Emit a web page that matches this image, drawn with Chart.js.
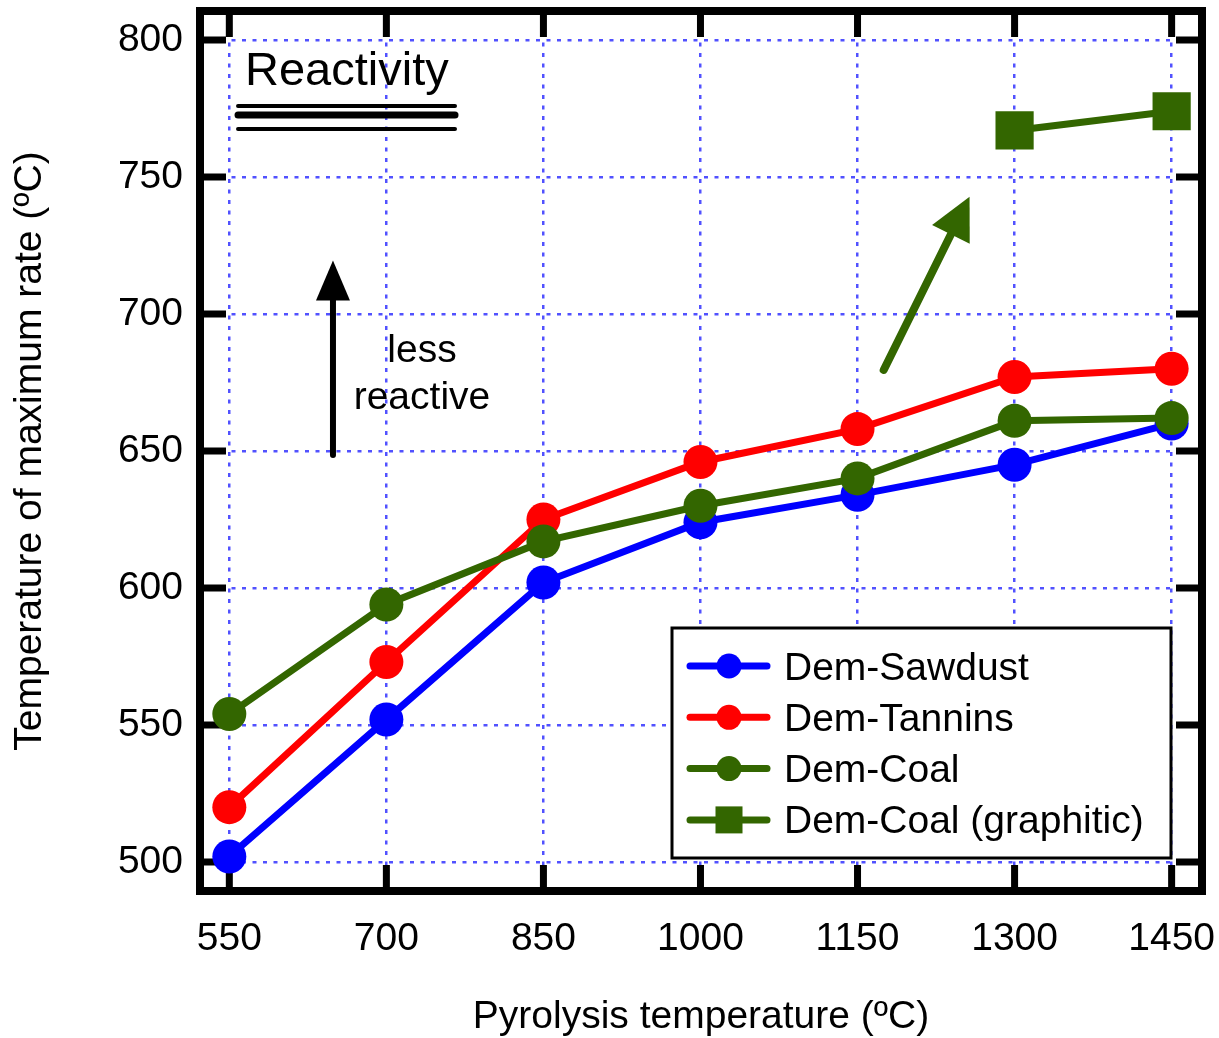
<!DOCTYPE html>
<html>
<head>
<meta charset="utf-8">
<script src="https://cdn.jsdelivr.net/npm/chart.js@4"></script>
<style>
  html, body { margin: 0; padding: 0; background: #fff; }
  #wrap { width: 1219px; height: 1038px; }
</style>
</head>
<body>
<div id="wrap"><canvas id="myChart"></canvas></div>
<script>
// pyrolysis temperatures (x) and y ticks
let pyroTemps = [550, 700, 850, 1000, 1150, 1300, 1450];
let yTicks = [500, 550, 600, 650, 700, 750, 800];

// temperature of maximum rate
let sawdust = [502, 552, 602, 624, 634, 645, 660];
let tannins = [520, 573, 625, 646, 658, 677, 680];
let coal = [554, 594, 617, 630, 640, 661, 662];
let graphTemps = [1300, 1450];
let coalGraphitic = [767, 774];

let seriesNames = ['Dem-Sawdust', 'Dem-Tannins', 'Dem-Coal', 'Dem-Coal (graphitic)'];
let seriesColors = ['#0000ff', '#ff0000', '#336600', '#336600'];

const FONT = 'Liberation Sans, Arial, sans-serif';

function pts(xs, ys) {
    return xs.map((x, i) => ({x: x, y: ys[i]}));
}

function makeSet(i, xs, ys, style, radius, order) {
    return {
        label: seriesNames[i],
        data: pts(xs, ys),
        borderColor: seriesColors[i],
        backgroundColor: seriesColors[i],
        pointBackgroundColor: seriesColors[i],
        pointBorderColor: seriesColors[i],
        pointBorderWidth: 0,
        pointStyle: style,
        pointRadius: radius,
        pointHoverRadius: radius,
        borderWidth: 7,
        fill: false,
        tension: 0,
        clip: false,
        order: order
    };
}

function arrow(ctx, x1, y1, x2, y2, color, lw, headLen, headHalf) {
    let ang = Math.atan2(y2 - y1, x2 - x1);
    let bx = x2 - headLen * Math.cos(ang);
    let by = y2 - headLen * Math.sin(ang);
    ctx.save();
    ctx.strokeStyle = color;
    ctx.fillStyle = color;
    ctx.lineWidth = lw;
    ctx.lineCap = 'round';
    ctx.beginPath();
    ctx.moveTo(x1, y1);
    ctx.lineTo(bx + 4 * Math.cos(ang), by + 4 * Math.sin(ang));
    ctx.stroke();
    ctx.beginPath();
    ctx.moveTo(x2, y2);
    ctx.lineTo(bx + headHalf * Math.sin(ang), by - headHalf * Math.cos(ang));
    ctx.lineTo(bx - headHalf * Math.sin(ang), by + headHalf * Math.cos(ang));
    ctx.closePath();
    ctx.fill();
    ctx.restore();
}

// frame + inward ticks on all four sides
const framePlugin = {
    id: 'frame',
    beforeDatasetsDraw(chart) {
        const ctx = chart.ctx;
        const a = chart.chartArea;
        const xs = chart.scales.x, ys = chart.scales.y;
        const len = 26;
        ctx.save();
        ctx.strokeStyle = '#000';
        ctx.lineWidth = 7;
        ctx.lineCap = 'butt';
        ctx.beginPath();
        pyroTemps.forEach(v => {
            let px = xs.getPixelForValue(v);
            ctx.moveTo(px, a.top); ctx.lineTo(px, a.top + len);
            ctx.moveTo(px, a.bottom); ctx.lineTo(px, a.bottom - len);
        });
        yTicks.forEach(v => {
            let py = ys.getPixelForValue(v);
            ctx.moveTo(a.left, py); ctx.lineTo(a.left + len, py);
            ctx.moveTo(a.right, py); ctx.lineTo(a.right - len, py);
        });
        ctx.stroke();
        ctx.lineWidth = 8;
        ctx.strokeRect(a.left, a.top, a.right - a.left, a.bottom - a.top);
        ctx.restore();
    }
};

// text, arrows and legend box
const notesPlugin = {
    id: 'notes',
    afterDatasetsDraw(chart) {
        const ctx = chart.ctx;
        const xs = chart.scales.x, ys = chart.scales.y;
        ctx.save();
        ctx.fillStyle = '#000';
        ctx.textBaseline = 'alphabetic';

        // Reactivity + triple underline
        let rx = xs.getPixelForValue(565), ry = ys.getPixelForValue(783.6);
        ctx.font = '47px ' + FONT;
        ctx.textAlign = 'left';
        ctx.fillText('Reactivity', rx, ry);
        ctx.strokeStyle = '#000';
        ctx.lineCap = 'round';
        [[21, 4], [30, 7], [44, 4]].forEach(l => {
            ctx.lineWidth = l[1];
            ctx.beginPath();
            ctx.moveTo(rx - 7, ry + l[0]);
            ctx.lineTo(rx + 210, ry + l[0]);
            ctx.stroke();
        });

        // less reactive
        let lx = xs.getPixelForValue(734), ly = ys.getPixelForValue(682.5);
        ctx.font = '39px ' + FONT;
        ctx.textAlign = 'center';
        ctx.fillText('less', lx, ly);
        ctx.fillText('reactive', lx, ly + 47);
        ctx.restore();

        arrow(ctx, xs.getPixelForValue(649), ys.getPixelForValue(648.5),
              xs.getPixelForValue(649), ys.getPixelForValue(719.5), '#000', 6, 40, 17);
        arrow(ctx, xs.getPixelForValue(1175), ys.getPixelForValue(679.6),
              xs.getPixelForValue(1257), ys.getPixelForValue(742.8), '#336600', 8, 42, 21);

        // legend
        ctx.save();
        ctx.fillStyle = '#fff';
        ctx.fillRect(672, 628, 499, 230);
        ctx.strokeStyle = '#000';
        ctx.lineWidth = 3;
        ctx.strokeRect(672, 628, 499, 230);
        chart.data.datasets.forEach((ds, i) => {
            let y = 666 + i * 51.3;
            ctx.strokeStyle = ds.borderColor;
            ctx.fillStyle = ds.borderColor;
            ctx.lineWidth = 7;
            ctx.lineCap = 'round';
            ctx.beginPath();
            ctx.moveTo(690, y);
            ctx.lineTo(767, y);
            ctx.stroke();
            if (ds.pointStyle === 'rect') {
                ctx.fillRect(729 - 13.5, y - 13.5, 27, 27);
            } else {
                ctx.beginPath();
                ctx.arc(729, y, 12.5, 0, Math.PI * 2);
                ctx.fill();
            }
            ctx.fillStyle = '#000';
            ctx.font = '39px ' + FONT;
            ctx.textAlign = 'left';
            ctx.textBaseline = 'alphabetic';
            ctx.fillText(ds.label, 784, y + 13.5);
        });
        ctx.restore();
    }
};

const gridStyle = {
    color: 'rgba(72, 72, 255, 0.95)',
    lineWidth: 2.5,
    drawTicks: false
};

function noPad(s) {
    s.paddingLeft = 0;
    s.paddingRight = 0;
    s.paddingTop = 0;
    s.paddingBottom = 0;
}

let myChart = document.getElementById('myChart').getContext('2d');

let chart = new Chart(myChart, {
    type: 'line',
    data: {
        datasets: [
            makeSet(0, pyroTemps, sawdust, 'circle', 17, 4),
            makeSet(1, pyroTemps, tannins, 'circle', 17, 3),
            makeSet(2, pyroTemps, coal, 'circle', 17, 2),
            makeSet(3, graphTemps, coalGraphitic, 'rect', 27, 1)
        ]
    },
    options: {
        responsive: true,
        maintainAspectRatio: false,
        animation: false,
        devicePixelRatio: 1,
        layout: { autoPadding: false, padding: { top: 11, right: 17, left: 0, bottom: 0 } },
        plugins: {
            legend: { display: false },
            tooltip: { enabled: false }
        },
        scales: {
            x: {
                type: 'linear',
                min: 522,
                max: 1479,
                afterBuildTicks: s => { s.ticks = pyroTemps.map(v => ({value: v})); },
                afterFit: s => { s.height = 147; noPad(s); },
                grid: gridStyle,
                border: { display: false, dash: [4, 6.5] },
                ticks: {
                    autoSkip: false,
                    maxRotation: 0,
                    padding: 25,
                    color: '#000',
                    font: { family: FONT, size: 39 },
                    callback: v => String(v)
                },
                title: {
                    display: true,
                    text: 'Pyrolysis temperature (ºC)',
                    color: '#000',
                    padding: { top: 0, bottom: -3 },
                    font: { family: FONT, size: 39 }
                }
            },
            y: {
                type: 'linear',
                min: 489.4,
                max: 810.6,
                afterBuildTicks: s => { s.ticks = yTicks.map(v => ({value: v})); },
                afterFit: s => { s.width = 200; noPad(s); },
                grid: gridStyle,
                border: { display: false, dash: [4, 6.5] },
                ticks: {
                    padding: 17,
                    color: '#000',
                    font: { family: FONT, size: 39 },
                    callback: v => String(v)
                },
                title: {
                    display: true,
                    text: 'Temperature of maximum rate (ºC)',
                    color: '#000',
                    padding: { top: 7, bottom: 0 },
                    font: { family: FONT, size: 39 }
                }
            }
        }
    },
    plugins: [framePlugin, notesPlugin]
});
</script>
</body>
</html>
